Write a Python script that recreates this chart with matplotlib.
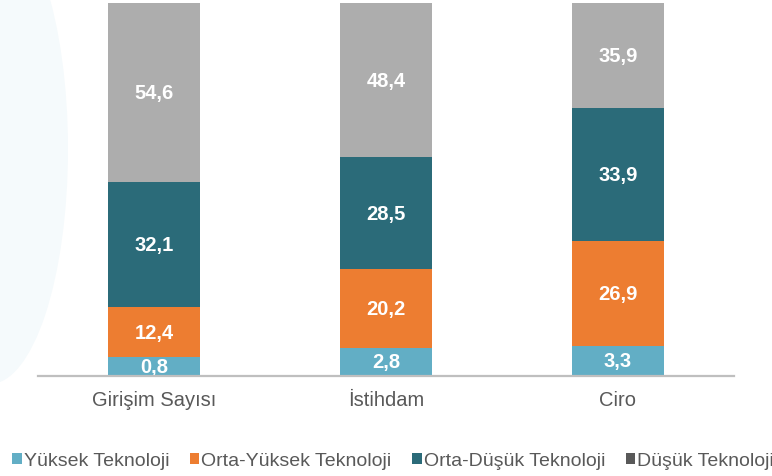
import numpy as np
import matplotlib
matplotlib.use("Agg")
import matplotlib.pyplot as plt
from matplotlib.patches import Patch, Ellipse


# ==================================
# DATA
# ==================================

categories = ["Girişim Sayısı", "İstihdam", "Ciro"]

series_names = [
    "Yüksek Teknoloji",
    "Orta-Yüksek Teknoloji",
    "Orta-Düşük Teknoloji",
    "Düşük Teknoloji"
]

yuksek = [0.8, 2.8, 3.3]
orta_yuksek = [12.4, 20.2, 26.9]
orta_dusuk = [32.1, 28.5, 33.9]
dusuk = [54.6, 48.4, 35.9]

series_values = [yuksek, orta_yuksek, orta_dusuk, dusuk]

bar_colors = ["#62AEC5", "#ED7D31", "#2B6B79", "#ADADAD"]
legend_colors = ["#62AEC5", "#ED7D31", "#2B6B79", "#595959"]
text_color = "#595959"


# ==================================
# STYLE
# ==================================

plt.rcParams["font.family"] = ["Liberation Sans", "DejaVu Sans"]


# the original infographic lifts the small bottom segments a little,
# so use a function scale that widens values near zero
def lift(v):
    v = np.asarray(v, dtype=float)
    return v + 4.4 * (1 - np.exp(-np.clip(v, 0, None) / 0.3))


_grid = np.linspace(-10, 200, 20001)


def unlift(y):
    return np.interp(y, lift(_grid), _grid)


# ==================================
# FIGURE
# ==================================

fig = plt.figure(figsize=(7.72, 4.77), dpi=100)

# faint decorative arc in the background
arc = Ellipse(
    (-0.10, 3.27),
    width=1.56,
    height=4.70,
    transform=fig.dpi_scale_trans,
    facecolor="#F5FAFC",
    edgecolor="none",
    zorder=0
)
fig.patches.append(arc)

ax = fig.add_axes([38 / 772, 100 / 477, 696 / 772, 373 / 477])
ax.patch.set_alpha(0)

ax.set_yscale("function", functions=(lift, unlift))

x = np.arange(len(categories))
width = 0.40
y_top = 91

bottom = np.zeros(len(categories))

for values, color in zip(series_values, bar_colors):

    values = np.array(values)

    ax.bar(
        x,
        values,
        width,
        bottom=bottom,
        color=color,
        edgecolor="none",
        zorder=2
    )

    for xi, b, v in zip(x, bottom, values):
        top = min(b + v, y_top)
        mid = unlift((lift(b) + lift(top)) / 2)
        ax.text(
            xi,
            mid,
            f"{v:.1f}".replace(".", ","),
            ha="center",
            va="center",
            color="white",
            fontsize=14.5,
            fontweight="bold",
            zorder=3
        )

    bottom = bottom + values

ax.set_xlim(-0.5, 2.5)
ax.set_ylim(0, y_top)

ax.set_xticks(x)
ax.set_xticklabels(categories, fontsize=14.5, color=text_color)
ax.tick_params(axis="x", length=0, pad=10)
ax.set_yticks([])
ax.yaxis.set_minor_locator(matplotlib.ticker.NullLocator())

for side in ["top", "left", "right"]:
    ax.spines[side].set_visible(False)

ax.spines["bottom"].set_color("#BFBFBF")
ax.spines["bottom"].set_linewidth(1.6)
ax.spines["bottom"].set_zorder(4)

# ==================================
# LEGEND
# ==================================

handles = [Patch(facecolor=c, edgecolor="none") for c in legend_colors]

fig.legend(
    handles,
    series_names,
    loc="center left",
    bbox_to_anchor=(12 / 772, 15 / 477),
    ncol=4,
    frameon=False,
    fontsize=14,
    labelcolor=text_color,
    handlelength=0.5,
    handleheight=0.55,
    handletextpad=0.1,
    columnspacing=1.05,
    borderpad=0,
    borderaxespad=0
)

fig.savefig("out.png", dpi=100)
